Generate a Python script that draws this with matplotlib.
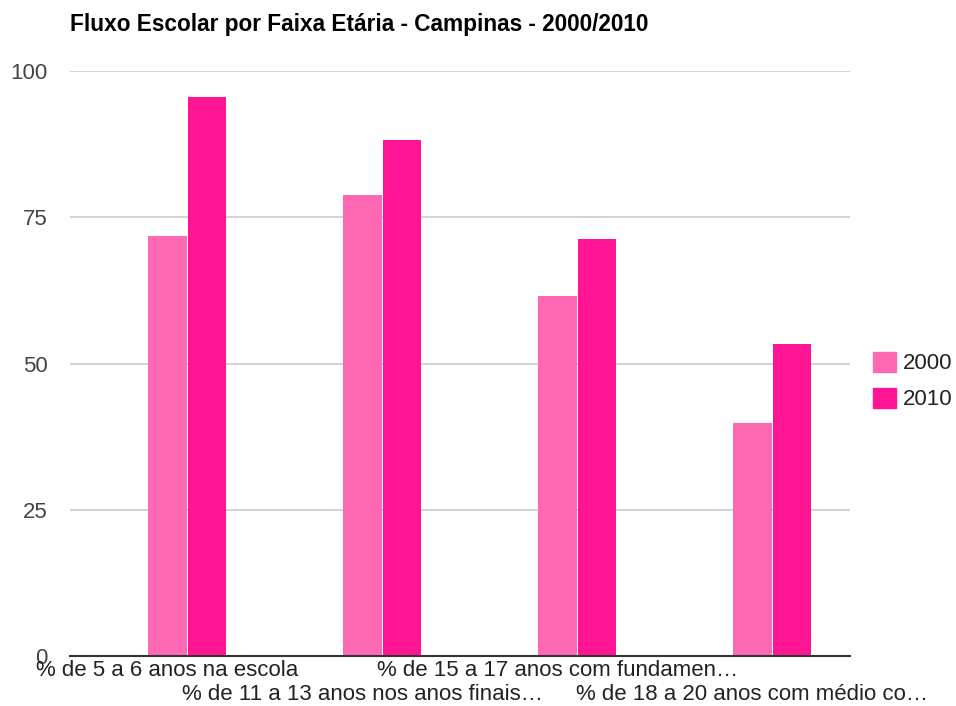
import matplotlib.pyplot as plt
import matplotlib.transforms as mtransforms
from matplotlib.patches import Patch

plt.rcParams['font.family'] = ['Liberation Sans', 'DejaVu Sans']

categorias = ['% de 5 a 6 anos na escola',
              '% de 11 a 13 anos nos anos finais…',
              '% de 15 a 17 anos com fundamen…',
              '% de 18 a 20 anos com médio co…']
valores_2000 = [71.8, 78.8, 61.6, 39.8]
valores_2010 = [95.6, 88.2, 71.3, 53.4]
anos = ['2000', '2010']
cores = ['#ff69b4', '#ff1493']

fig = plt.figure(figsize=(9.56, 7.06), dpi=100)
ax = fig.add_axes([70/956, (706-656)/706, 780/956, 585/706])

pos = list(range(len(categorias)))
ax.bar(pos, valores_2000, width=0.195, color=cores[0], align='center', zorder=3)
ax.bar([p + 0.205 for p in pos], valores_2010, width=0.195, color=cores[1], align='center', zorder=3)

ax.set_xlim(-0.5, 3.5)
ax.set_ylim(0, 100)
ax.set_yticks([0, 25, 50, 75, 100])
ax.set_yticklabels(['0', '25', '50', '75', '100'], fontsize=16, color='#444444')
ax.tick_params(axis='y', length=0, pad=16)
ax.tick_params(axis='x', length=0)
ax.set_xticks([])
ax.yaxis.grid(True, color='#cccccc', linewidth=1.2, zorder=0)
# o "0" fica um pouco acima da linha de base
ax.get_yticklabels()[0].set_y(1.0)

for s in ['top', 'right', 'left']:
    ax.spines[s].set_visible(False)
ax.spines['bottom'].set_color('#333333')
ax.spines['bottom'].set_linewidth(1.5)
ax.spines['bottom'].set_zorder(4)

# rótulos alternados em duas linhas
trans = mtransforms.blended_transform_factory(ax.transData, fig.transFigure)
for i, c in enumerate(categorias):
    y = (706 - 670) / 706 if i % 2 == 0 else (706 - 695) / 706
    fig.text(i, y, c, transform=trans, ha='center', va='center', fontsize=16, color='#222222')

fig.text(70/956, (706-24)/706, 'Fluxo Escolar por Faixa Etária - Campinas - 2000/2010',
         fontsize=16.3, fontweight='bold', ha='left', va='center', color='#000000')

handles = [Patch(color=cores[0]), Patch(color=cores[1])]
fig.legend(handles, anos, loc='center left', bbox_to_anchor=(873/956, (706-381)/706),
           frameon=False, fontsize=16, handlelength=1.03, handleheight=1.03,
           handletextpad=0.3, labelspacing=0.6, labelcolor='#222222',
           borderpad=0, borderaxespad=0)

fig.savefig('out.png', dpi=100)
